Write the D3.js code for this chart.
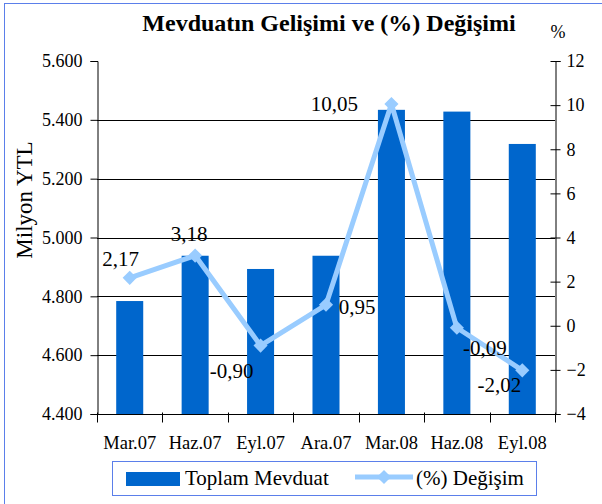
<!DOCTYPE html>
<html><head><meta charset="utf-8">
<script src="https://cdn.jsdelivr.net/npm/d3@7"></script>
<style>
html,body{margin:0;padding:0;background:#fff;}
svg{display:block;font-family:"Liberation Serif","Times New Roman",serif;}
</style></head>
<body>
<svg id="chart" width="602" height="504"></svg>
<script>
const categories = ["Mar.07","Haz.07","Eyl.07","Ara.07","Mar.08","Haz.08","Eyl.08"];
const deposits = [4784, 4938, 4893, 4938, 5434, 5428, 5318];
const changePct = [2.17, 3.18, -0.90, 0.95, 10.05, -0.09, -2.02];
const leftTicks = [4400, 4600, 4800, 5000, 5200, 5400, 5600];
const rightTicks = [-4, -2, 0, 2, 4, 6, 8, 10, 12];
const seriesNames = ["Toplam Mevduat", "(%) Değişim"];
// label placement offsets (dx to label centre, dy to baseline)
const labelOffsets = [[-9,-12],[-6,-15],[-29,32],[31,9],[-57,7],[28,27],[-23,22]];

const svg = d3.select("#chart");
const W = 602, H = 504;
const L = 97, R = 555, T = 61, B = 414;
const barColor = "#0066CC", lineColor = "#99CCFF", frameColor = "#5B7FEA";

// outer frame
svg.append("rect").attr("x",4.5).attr("y",3.5).attr("width",W+10).attr("height",H+10)
  .attr("fill","none").attr("stroke",frameColor).attr("stroke-width",1);

const x = d3.scaleBand().domain(categories).range([L,R]).paddingInner(0.587).paddingOuter(0.2935);
const xStep = (R-L)/categories.length;
const yL = d3.scaleLinear().domain([4400,5600]).range([B,T]);
const yR = d3.scaleLinear().domain([-4,12]).range([B,T]);
const fmtL = v => d3.format(",")(v).replace(/,/g,".");
const fmtP = v => v.toFixed(2).replace(".",",");

// gridlines
svg.append("g").selectAll("line").data(leftTicks.filter(t=>t>4400 && t<5600)).join("line")
  .attr("x1",L).attr("x2",R).attr("y1",d=>Math.round(yL(d))+0.5).attr("y2",d=>Math.round(yL(d))+0.5)
  .attr("stroke","#000").attr("stroke-width",1);

// bars
svg.append("g").selectAll("rect").data(categories).join("rect")
  .attr("x",d=>x(d)).attr("width",x.bandwidth())
  .attr("y",(d,i)=>yL(deposits[i])).attr("height",(d,i)=>B-yL(deposits[i]))
  .attr("fill",barColor);

// left axis
const gL = svg.append("g").attr("transform",`translate(${L+0.5},0)`)
  .call(d3.axisLeft(yL).tickValues(leftTicks).tickFormat(fmtL).tickSize(7).tickPadding(8));
gL.attr("font-family","Liberation Serif");
gL.select(".domain").attr("stroke","#000");
gL.selectAll("text").attr("font-size",18).attr("fill","#000");

// right axis
const gR = svg.append("g").attr("transform",`translate(${R+0.5},0)`)
  .call(d3.axisRight(yR).tickValues(rightTicks).tickSize(5).tickPadding(6));
gR.attr("font-family","Liberation Serif");
gR.select(".domain").attr("stroke","#000");
gR.selectAll(".tick line").attr("x1",-5).attr("x2",5);
gR.selectAll("text").attr("font-size",18).attr("fill","#000");

// bottom axis
const gB = svg.append("g").attr("transform",`translate(0,${B+0.5})`);
gB.append("line").attr("x1",L).attr("x2",R+5).attr("stroke","#000");
gB.selectAll("line.tk").data(d3.range(categories.length+1)).join("line").attr("class","tk")
  .attr("x1",i=>Math.round(L+i*xStep)+0.5).attr("x2",i=>Math.round(L+i*xStep)+0.5)
  .attr("y1",-2).attr("y2",8).attr("stroke","#000");
gB.selectAll("text").data(categories).join("text")
  .attr("x",d=>x(d)+x.bandwidth()/2).attr("y",34).attr("text-anchor","middle")
  .attr("font-size",18.5).text(d=>d);

// line series
const line = d3.line().x((d,i)=>x(categories[i])+x.bandwidth()/2).y(d=>yR(d));
svg.append("path").datum(changePct).attr("d",line).attr("fill","none")
  .attr("stroke",lineColor).attr("stroke-width",5).attr("stroke-linejoin","round");
const diamond = d3.symbol(d3.symbolSquare,100);
svg.append("g").selectAll("path").data(changePct).join("path")
  .attr("d",diamond)
  .attr("transform",(d,i)=>`translate(${x(categories[i])+x.bandwidth()/2},${yR(d)}) rotate(45)`)
  .attr("fill",lineColor);

// data labels
svg.append("g").selectAll("text").data(changePct).join("text")
  .attr("x",(d,i)=>x(categories[i])+x.bandwidth()/2+labelOffsets[i][0])
  .attr("y",(d,i)=>yR(d)+labelOffsets[i][1])
  .attr("text-anchor","middle").attr("font-size",21).text(d=>fmtP(d));

// title
svg.append("text").attr("x",329).attr("y",31).attr("text-anchor","middle")
  .attr("font-size",24).attr("font-weight","bold").text("Mevduatın Gelişimi ve (%) Değişimi");
svg.append("text").attr("x",558).attr("y",38).attr("text-anchor","middle")
  .attr("font-size",18).text("%");

// y axis title
svg.append("text").attr("transform","translate(32,200) rotate(-90)")
  .attr("text-anchor","middle").attr("font-size",23).text("Milyon YTL");

// legend
const lg = svg.append("g");
lg.append("rect").attr("x",112.5).attr("y",461.5).attr("width",424).attr("height",34)
  .attr("fill","#fff").attr("stroke",frameColor);
lg.append("rect").attr("x",126).attr("y",472).attr("width",54).attr("height",14).attr("fill",barColor);
lg.append("text").attr("x",185).attr("y",485).attr("font-size",21).text(seriesNames[0]);
lg.append("line").attr("x1",355).attr("x2",413).attr("y1",477).attr("y2",477)
  .attr("stroke",lineColor).attr("stroke-width",5);
lg.append("path").attr("d",diamond).attr("transform","translate(384,477) rotate(45)").attr("fill",lineColor);
lg.append("text").attr("x",416).attr("y",485).attr("font-size",21).text(seriesNames[1]);
</script>
</body></html>
